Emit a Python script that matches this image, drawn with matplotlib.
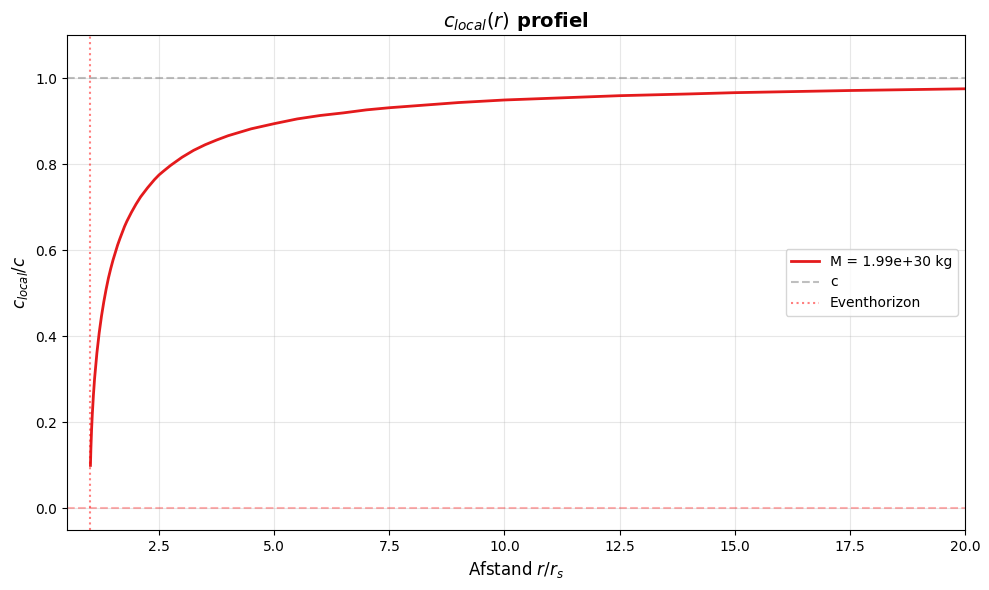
import matplotlib
matplotlib.use("Agg")
import matplotlib.pyplot as plt

# values (r / r_s -> c_local / c)
r_over_rs = [1.01, 1.02, 1.035, 1.05, 1.075, 1.1, 1.15, 1.2, 1.25, 1.3, 1.35,
             1.4, 1.45, 1.5, 1.6, 1.65, 1.75, 1.8, 1.9, 2.0, 2.1, 2.25, 2.4,
             2.5, 2.6, 2.75, 3.0, 3.25, 3.5, 3.75, 4.0, 4.5, 5.0, 5.5, 6.0,
             6.5, 7.0, 7.5, 8.0, 9.0, 10.0, 11.0, 12.5, 14.0, 15.0, 17.5, 20.0]
c_local = [0.10, 0.14, 0.184, 0.218, 0.264, 0.302, 0.361, 0.408, 0.447, 0.48,
           0.509, 0.535, 0.557, 0.577, 0.612, 0.627, 0.655, 0.667, 0.688,
           0.707, 0.724, 0.745, 0.764, 0.775, 0.784, 0.797, 0.816, 0.832,
           0.845, 0.856, 0.866, 0.882, 0.894, 0.905, 0.913, 0.919, 0.926,
           0.931, 0.935, 0.943, 0.949, 0.953, 0.959, 0.963, 0.966, 0.971,
           0.975]
mass_label = "M = 1.99e+30 kg"
horizon_r = 1.0

fig, ax = plt.subplots(figsize=(9.89, 5.9), dpi=100)
ax.plot(r_over_rs, c_local, color="#e41a1c", lw=2, label=mass_label)
ax.axhline(1.0, color="gray", ls="--", alpha=0.5, label="c")
ax.axhline(0.0, color="red", ls="--", alpha=0.3)
ax.axvline(horizon_r, color="red", ls=":", alpha=0.5, label="Eventhorizon")

ax.set_xlim(0.5, 20)
ax.set_ylim(-0.05, 1.1)
ax.set_xlabel("Afstand $r/r_s$", fontsize=12)
ax.set_ylabel("$c_{local}/c$", fontsize=12)
ax.set_title("$c_{local}(r)$ profiel", fontsize=14, fontweight="bold")
ax.grid(True, alpha=0.3)
ax.legend(loc="center right")

fig.subplots_adjust(left=0.0677, right=0.9757, top=0.9407, bottom=0.1017)
fig.savefig("out.png")
